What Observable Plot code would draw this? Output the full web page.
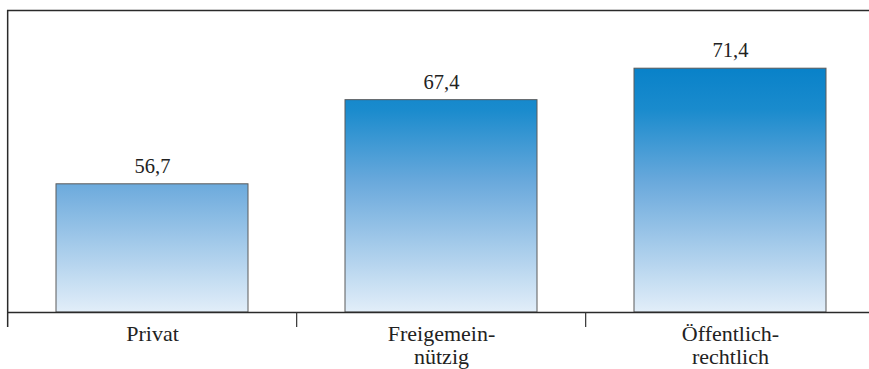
<!DOCTYPE html>
<html>
<head>
<meta charset="utf-8">
<script src="https://cdn.jsdelivr.net/npm/d3@7"></script>
<script src="https://cdn.jsdelivr.net/npm/@observablehq/plot@0.6"></script>
<style>
  html, body { margin: 0; padding: 0; background: #fff; }
  svg { display: block; }
</style>
</head>
<body>
<div id="chart"></div>
<script>
// Data
const categories = ["Privat", "Freigemeinnützig", "Öffentlich-rechtlich"];
const tickLabels = ["Privat", "Freigemein-\nnützig", "Öffentlich-\nrechtlich"];
const values = [56.7, 67.4, 71.4];

const data = categories.map((c, i) => ({cat: c, label: tickLabels[i], value: values[i]}));

// Layout
const W = 869, H = 369;
const marginTop = 10, marginBottom = 57, marginLeft = 7;
const yMin = 40.4, yMax = 78.8;
const xRange = [7, 876];
const step = (xRange[1] - xRange[0]) / categories.length;
const pxPerUnit = (H - marginTop - marginBottom) / (yMax - yMin);
const tickLen = 15 / pxPerUnit;
const fmt = v => v.toFixed(1).replace(".", ",");
const font = "Liberation Serif";

const svg = Plot.plot({
  width: W,
  height: H,
  marginTop, marginBottom, marginLeft, marginRight: 0,
  style: {color: "#222", background: "#fff", overflow: "hidden"},
  x: {domain: categories, range: xRange, paddingInner: 0.334, paddingOuter: 0.167, axis: null},
  y: {domain: [yMin, yMax], axis: null},
  marks: [
    Plot.barY(data, {x: "cat", y1: () => yMin, y2: "value", fill: "url(#barGrad)", stroke: "#5a5a5a", strokeWidth: 1}),
    // top border and baseline
    Plot.ruleY([yMax], {stroke: "#2a2a2a", strokeWidth: 1.5}),
    Plot.ruleY([yMin], {stroke: "#2a2a2a", strokeWidth: 1.5}),
    // left border + tick
    Plot.ruleX([categories[0]], {x: d => d, dx: -step / 2, y1: () => yMax, y2: () => yMin - tickLen, stroke: "#2a2a2a", strokeWidth: 1.5}),
    // separator ticks
    Plot.ruleX(categories.slice(1), {x: d => d, dx: -step / 2, y1: () => yMin, y2: () => yMin - tickLen, stroke: "#333", strokeWidth: 1.2}),
    // value labels
    Plot.text(data, {x: "cat", y: "value", text: d => fmt(d.value), dy: -18, fontSize: 20.5, fontFamily: font, fill: "#222"}),
    // category labels
    Plot.text(data, {x: "cat", y: () => yMin, text: "label", lineAnchor: "top", dy: 12, fontSize: 22, fontFamily: font, lineHeight: 1.04, fill: "#222"})
  ]
});

const y0 = marginTop, y1 = H - marginBottom;
d3.select(svg).insert("defs", ":first-child").html(`
  <linearGradient id="barGrad" gradientUnits="userSpaceOnUse" x1="0" y1="${y0}" x2="0" y2="${y1}">
    <stop offset="0" stop-color="#0076c0"/>
    <stop offset="0.169" stop-color="#0680c8"/>
    <stop offset="0.33" stop-color="#1a8bcd"/>
    <stop offset="0.57" stop-color="#6aa9dc"/>
    <stop offset="1" stop-color="#e2eef9"/>
  </linearGradient>`);

document.getElementById("chart").appendChild(svg);
</script>
</body>
</html>
